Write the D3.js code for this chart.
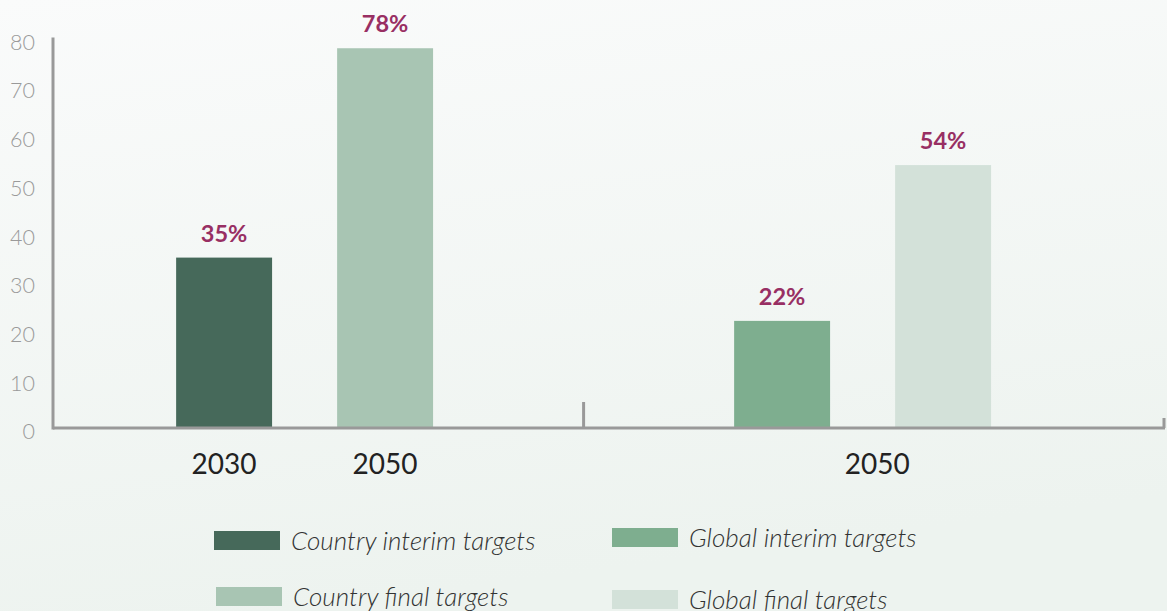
<!DOCTYPE html>
<html>
<head>
<meta charset="utf-8">
<script src="https://cdn.jsdelivr.net/npm/d3@7"></script>
<style>
  body { margin: 0; }
  svg { display: block; font-family: Lato, sans-serif; }
</style>
</head>
<body>
<div id="chart"></div>
<script>
var width  = 1167;
var height = 611;

// data
var groups   = ["Country", "Global"];
var barKeys  = ["interim", "final"];
var years    = [["2030", "2050"], ["2050"]];
var values   = [[35, 78], [22, 54]];
var yTicks   = [0, 10, 20, 30, 40, 50, 60, 70, 80];
var legendLabels = [
  ["Country interim targets", "Country final targets"],
  ["Global interim targets", "Global final targets"]
];
var colors = [["#46695a", "#a8c5b3"], ["#7eae8f", "#d3e1d9"]];

var svg = d3.select("#chart").append("svg")
  .attr("width", width)
  .attr("height", height);

var grad = svg.append("defs").append("linearGradient")
  .attr("id", "bg")
  .attr("x1", "0").attr("y1", "0").attr("x2", "0.25").attr("y2", "1");
grad.append("stop").attr("offset", "0").attr("stop-color", "#fafbfb");
grad.append("stop").attr("offset", "1").attr("stop-color", "#edf3ef");

svg.append("rect")
  .attr("width", width).attr("height", height)
  .attr("fill", "url(#bg)");

var left = 53, right = 1165, base = 428;

var y = d3.scaleLinear().domain([0, 80]).range([base, 38.5]);

var x0 = d3.scaleBand().domain(groups).range([left, left + 2 * 558]);
var x1 = d3.scaleBand().domain(barKeys).range([0, 558])
  .paddingInner(0.404).paddingOuter(0.935).align(0.409);

// y axis
var yAxis = d3.axisLeft(y).tickValues(yTicks).tickSize(0).tickPadding(18);
var gy = svg.append("g").attr("transform", "translate(" + left + ",0)").call(yAxis);
gy.select(".domain").remove();
gy.selectAll("text")
  .attr("dy", "0.5em")
  .attr("fill", "#9a9a9a")
  .style("font-family", "Lato, sans-serif")
  .style("font-size", "21.5px")
  .style("font-weight", 300);

svg.append("line")
  .attr("x1", left).attr("x2", left)
  .attr("y1", y(80) - 1).attr("y2", base + 1.5)
  .attr("stroke", "#999").attr("stroke-width", 3);

// bars
groups.forEach(function(g, gi) {
  var gg = svg.append("g").attr("transform", "translate(" + x0(g) + ",0)");
  gg.selectAll("rect")
    .data(values[gi])
    .enter().append("rect")
    .attr("x", function(d, i) { return x1(barKeys[i]); })
    .attr("y", function(d) { return y(d); })
    .attr("width", x1.bandwidth())
    .attr("height", function(d) { return base - y(d); })
    .attr("fill", function(d, i) { return colors[gi][i]; });

  gg.selectAll(".val")
    .data(values[gi])
    .enter().append("text")
    .attr("class", "val")
    .attr("x", function(d, i) { return x1(barKeys[i]) + x1.bandwidth() / 2; })
    .attr("y", function(d) { return y(d) - 16; })
    .attr("text-anchor", "middle")
    .attr("fill", "#982f63")
    .style("font-size", "23.5px")
    .style("font-weight", 700)
    .text(function(d) { return d + "%"; });
});

// x axis line and separators
var divider = (x0("Country") + x1("final") + x1.bandwidth() + x0("Global") + x1("interim")) / 2;
svg.append("line")
  .attr("x1", left).attr("x2", right)
  .attr("y1", base).attr("y2", base)
  .attr("stroke", "#999").attr("stroke-width", 3);
svg.append("line")
  .attr("x1", divider).attr("x2", divider)
  .attr("y1", base).attr("y2", base - 26)
  .attr("stroke", "#999").attr("stroke-width", 3);
svg.append("line")
  .attr("x1", right - 1).attr("x2", right - 1)
  .attr("y1", base).attr("y2", base - 10)
  .attr("stroke", "#999").attr("stroke-width", 3);

// category labels
var catLabel = function(xp, t) {
  svg.append("text")
    .attr("x", xp).attr("y", 474)
    .attr("text-anchor", "middle")
    .attr("fill", "#222")
    .style("font-size", "28px")
    .text(t);
};
years[0].forEach(function(t, i) {
  catLabel(x0("Country") + x1(barKeys[i]) + x1.bandwidth() / 2, t);
});
catLabel((divider + right) / 2 + 3, years[1][0]);

// legend
var legendPos = [[[214, 531], [216, 587]], [[612, 528], [612, 590]]];
legendLabels.forEach(function(col, ci) {
  col.forEach(function(lab, ri) {
    var p = legendPos[ci][ri];
    svg.append("rect")
      .attr("x", p[0]).attr("y", p[1])
      .attr("width", 66).attr("height", 19)
      .attr("fill", colors[ci][ri]);
    svg.append("text")
      .attr("x", p[0] + 77).attr("y", p[1] + 19)
      .attr("fill", "#333")
      .style("font-size", "26px")
      .style("font-style", "italic")
      .style("font-weight", 300)
      .text(lab);
  });
});
</script>
</body>
</html>
